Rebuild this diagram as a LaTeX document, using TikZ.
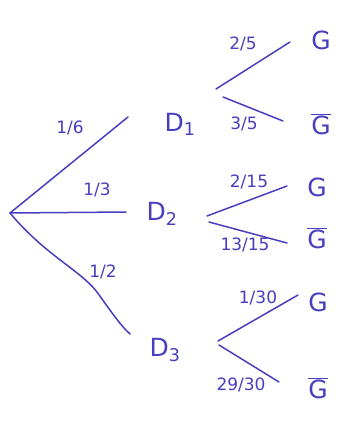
\documentclass[tikz,border=0pt]{standalone}
\usepackage{fontspec}
\setmainfont{DejaVu Sans}
\definecolor{ink}{RGB}{72,62,190}
\begin{document}
\begin{tikzpicture}[x=1pt,y=-1pt,
  branch/.style={draw=ink,line width=1.5pt,line cap=round},
  lbl/.style={text=ink,font=\fontsize{17}{19}\selectfont,inner sep=0pt},
  big/.style={text=ink,font=\fontsize{25}{27}\selectfont,inner sep=0pt}]
\useasboundingbox (0,0) rectangle (342,428);
% level 1
\coordinate (r) at (10,213);
\coordinate (e1) at (128,117);
\coordinate (e2) at (126,212);
\coordinate (e3) at (130,334);
\node[big] (D1) at (180,124) {D\textsubscript{1}};
\node[big] (D2) at (162,214) {D\textsubscript{2}};
\node[big] (D3) at (165,350) {D\textsubscript{3}};
\draw[branch] (r) -- (e1);
\draw[branch] (r) -- (e2);
\draw[branch] (r) .. controls (45,255) and (80,270) .. (97,292) .. controls (110,310) and (120,325) .. (e3);
\node[lbl] (l1) at (70,128) {1/6};
\node[lbl] (l2) at (97,190) {1/3};
\node[lbl] (l3) at (103,272) {1/2};
% D1
\coordinate (a1) at (216,89);
\coordinate (a2) at (290,42);
\coordinate (b1) at (223,97);
\coordinate (b2) at (283,121);
\draw[branch] (a1) -- (a2);
\draw[branch] (b1) -- (b2);
\node[lbl] (l4) at (243,44) {2/5};
\node[lbl] (l5) at (244,124) {3/5};
\node[big] (G1) at (321,40) {G};
\node[big] (G2) at (321,124) {$\overline{\mbox{G}}$};
% D2
\coordinate (c1) at (207,216);
\coordinate (c2) at (287,186);
\coordinate (f1) at (209,222);
\coordinate (f2) at (287,243);
\draw[branch] (c1) -- (c2);
\draw[branch] (f1) -- (f2);
\node[lbl] (l6) at (249,182) {2/15};
\node[lbl] (l7) at (245,245) {13/15};
\node[big] (G3) at (317,187) {G};
\node[big] (G4) at (317,238) {$\overline{\mbox{G}}$};
% D3
\coordinate (g1) at (218,341);
\coordinate (g2) at (298,295);
\coordinate (h1) at (219,345);
\coordinate (h2) at (279,382);
\draw[branch] (g1) -- (g2);
\draw[branch] (h1) -- (h2);
\node[lbl] (l8) at (258,298) {1/30};
\node[lbl] (l9) at (241,385) {29/30};
\node[big] (G5) at (318,302) {G};
\node[big] (G6) at (318,388) {$\overline{\mbox{G}}$};
\end{tikzpicture}
\end{document}
